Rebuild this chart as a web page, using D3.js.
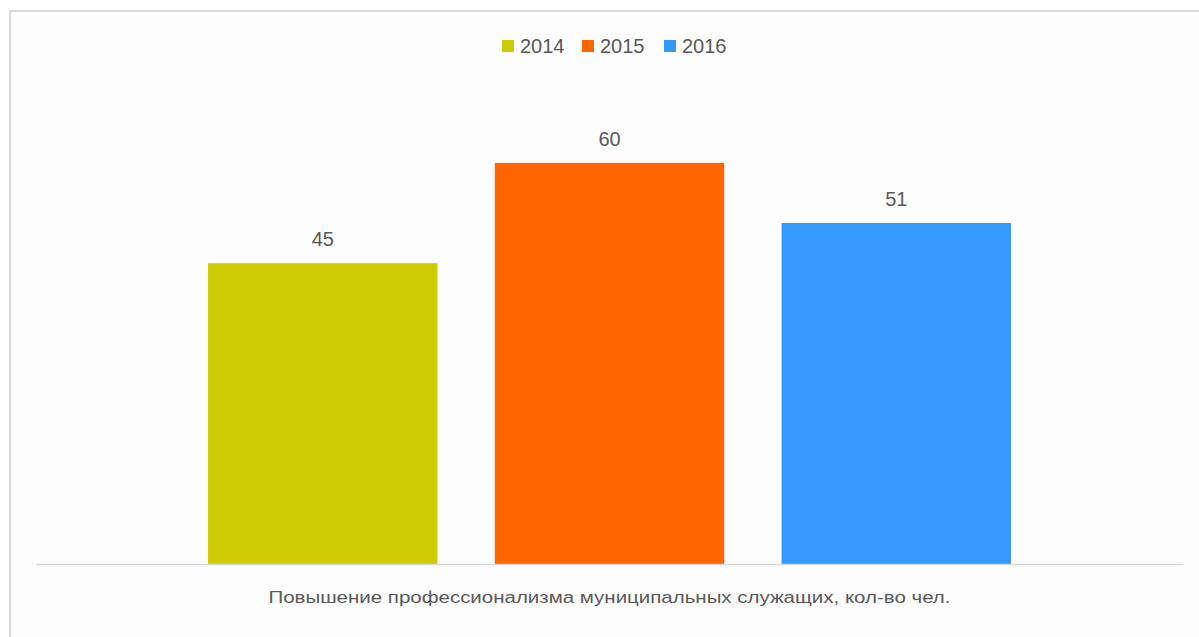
<!DOCTYPE html>
<html>
<head>
<meta charset="utf-8">
<script src="https://cdn.jsdelivr.net/npm/d3@7"></script>
<style>
  html, body { margin: 0; padding: 0; background: #ffffff; }
  svg { display: block; }
  text { font-family: "Liberation Sans", Arial, sans-serif; fill: #595959; }
</style>
</head>
<body>
<svg id="chart" width="1199" height="637"></svg>
<script>
const categories = ["Повышение профессионализма муниципальных служащих, кол-во чел."];
const years = ["2014", "2015", "2016"];
const values = [45, 60, 51];
const colors = ["#CCCC00", "#FF6600", "#3399FF"];

const W = 1199, H = 637;
const svg = d3.select("#chart");

// frame
svg.append("rect").attr("x", 0).attr("y", 0).attr("width", W).attr("height", H).attr("fill", "#ffffff");
svg.append("rect")
  .attr("x", 10).attr("y", 11).attr("width", W + 20).attr("height", H + 20)
  .attr("fill", "#fdfdfd").attr("stroke", "#d9d9d9").attr("stroke-width", 2);

const plotLeft = 36, plotRight = 1183, baseY = 564, topY = 96;

const x0 = d3.scaleBand().domain(categories).range([plotLeft, plotRight])
  .paddingInner(0.3).paddingOuter(0.15);
const x1 = d3.scaleBand().domain(years).range([0, x0.bandwidth()]).paddingInner(0.2);
const y = d3.scaleLinear().domain([0, 70]).range([baseY, topY]);
const color = d3.scaleOrdinal().domain(years).range(colors);

const data = years.map((yr, i) => ({ year: yr, value: values[i], cat: categories[0] }));

const g = svg.append("g");
g.selectAll("rect.bar").data(data).enter().append("rect")
  .attr("class", "bar")
  .attr("x", d => x0(d.cat) + x1(d.year))
  .attr("y", d => y(d.value))
  .attr("width", x1.bandwidth())
  .attr("height", d => y(0) - y(d.value))
  .attr("fill", d => color(d.year));

g.selectAll("text.lbl").data(data).enter().append("text")
  .attr("class", "lbl")
  .attr("x", d => x0(d.cat) + x1(d.year) + x1.bandwidth() / 2)
  .attr("y", d => y(d.value) - 17)
  .attr("text-anchor", "middle")
  .attr("font-size", 20)
  .text(d => d.value);

// axis
const xAxis = d3.axisBottom(x0).tickSize(0).tickPadding(0);
const ax = svg.append("g").attr("transform", `translate(0,${baseY})`).call(xAxis);
ax.select(".domain").attr("stroke", "#d9d9d9").attr("stroke-width", 1.5);
ax.selectAll(".tick text")
  .attr("y", 39)
  .attr("dy", 0)
  .attr("font-size", 16)
  .attr("fill", "#595959")
  .style("font-family", "'Liberation Sans', Arial, sans-serif");
ax.selectAll(".tick text").each(function () {
  const len = this.getComputedTextLength();
  if (len > 0) d3.select(this).attr("textLength", 682).attr("lengthAdjust", "spacingAndGlyphs");
});

// legend
const legendX = [502, 582, 664];
const lg = svg.append("g");
years.forEach((yr, i) => {
  const it = lg.append("g").attr("transform", `translate(${legendX[i]},40)`);
  it.append("rect").attr("width", 12).attr("height", 12).attr("fill", color(yr));
  it.append("text").attr("x", 18).attr("y", 13).attr("font-size", 20).text(yr);
});
</script>
</body>
</html>
